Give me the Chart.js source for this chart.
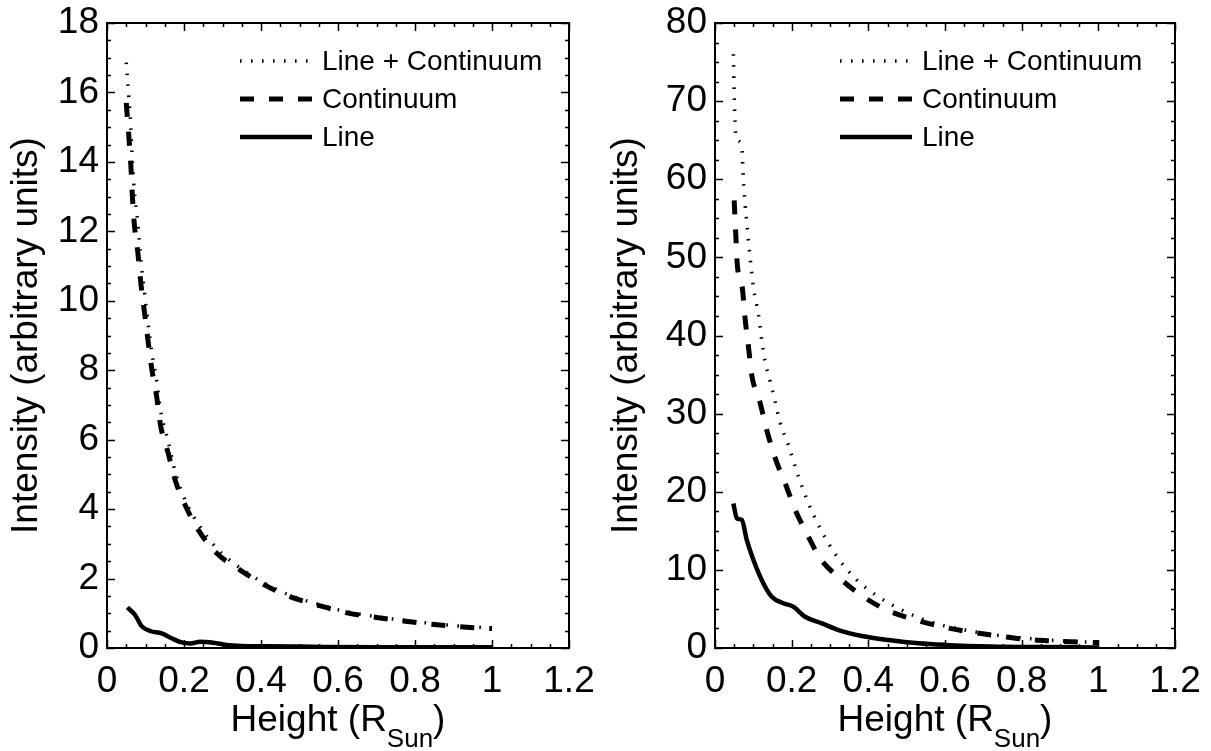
<!DOCTYPE html>
<html>
<head>
<meta charset="utf-8">
<script src="https://cdn.jsdelivr.net/npm/chart.js@4.4.1/dist/chart.umd.min.js"></script>
<style>
  html, body { margin: 0; padding: 0; background: #fff; }
  #wrap { position: relative; width: 1211px; height: 751px; }
  .panel { position: absolute; top: 0; height: 751px; }
  #left { left: 0; width: 605px; }
  #right { left: 605px; width: 606px; }
</style>
</head>
<body>
<div id="wrap">
  <div class="panel" id="left"><canvas id="leftChart"></canvas></div>
  <div class="panel" id="right"><canvas id="rightChart"></canvas></div>
</div>
<script>
// ---- Left panel data (height in R_Sun, intensity in arbitrary units) ----
const leftContX = [0.05, 0.057, 0.062, 0.066, 0.071, 0.08, 0.088, 0.097, 0.106, 0.116, 0.129, 0.139, 0.159, 0.177, 0.205, 0.237, 0.285, 0.345, 0.41, 0.475, 0.545, 0.62, 0.70, 0.77, 0.84, 0.917, 1.0];
const leftTotal = [16.86, 15.8, 14.95, 14.0, 13.16, 12.25, 11.16, 10.28, 9.42, 8.54, 7.69, 6.85, 5.95, 5.08, 4.21, 3.57, 2.87, 2.31, 1.86, 1.52, 1.27, 1.05, 0.9, 0.8, 0.71, 0.63, 0.58];
const leftCont = [15.7, 14.7, 13.9, 13.0, 12.2, 11.4, 10.5, 9.7, 8.9, 8.06, 7.24, 6.42, 5.61, 4.84, 4.07, 3.40, 2.73, 2.25, 1.81, 1.48, 1.24, 1.02, 0.88, 0.78, 0.69, 0.61, 0.56];
const leftLineX = [0.053, 0.073, 0.09, 0.112, 0.142, 0.168, 0.194, 0.216, 0.242, 0.276, 0.31, 0.35, 0.41, 0.5, 0.7, 1.0];
const leftLine = [1.17, 0.95, 0.63, 0.49, 0.42, 0.28, 0.16, 0.13, 0.18, 0.15, 0.09, 0.06, 0.05, 0.04, 0.02, 0.02];

// ---- Right panel data ----
const rightTotalX = [0.048, 0.05, 0.053, 0.058, 0.07, 0.074, 0.078, 0.083, 0.091, 0.1, 0.113, 0.122, 0.131, 0.144, 0.157, 0.17, 0.191, 0.218, 0.244, 0.279, 0.318, 0.37, 0.426, 0.496, 0.574, 0.653, 0.731, 0.81, 0.89, 0.98, 1.0];
const rightTotal = [76.0, 71.0, 66.5, 65.0, 64.2, 59.9, 57.1, 54.4, 50.3, 46.2, 42.8, 39.4, 36.6, 34.1, 31.5, 28.8, 26.0, 21.9, 18.5, 14.9, 11.7, 8.7, 6.57, 4.65, 3.16, 2.3, 1.66, 1.24, 0.95, 0.75, 0.72];
const rightContX = [0.05, 0.054, 0.058, 0.072, 0.078, 0.087, 0.096, 0.117, 0.135, 0.157, 0.183, 0.209, 0.239, 0.274, 0.326, 0.387, 0.448, 0.518, 0.592, 0.661, 0.74, 0.81, 0.88, 0.966, 1.0];
const rightCont = [57.3, 53.1, 49.2, 45.8, 42.4, 38.7, 34.9, 31.5, 27.9, 24.3, 21.1, 17.7, 14.7, 11.5, 8.9, 6.57, 4.86, 3.67, 2.73, 2.09, 1.54, 1.11, 0.9, 0.73, 0.7];
const rightLineX = [0.048, 0.057, 0.07, 0.083, 0.1, 0.126, 0.148, 0.178, 0.204, 0.235, 0.279, 0.322, 0.383, 0.453, 0.531, 0.6, 0.72, 0.85, 1.0];
const rightLine = [18.5, 16.6, 16.4, 13.8, 11.3, 8.3, 6.57, 5.72, 5.29, 4.0, 3.16, 2.3, 1.54, 1.02, 0.6, 0.4, 0.2, 0.12, 0.08];

// ---- Axis ticks ----
const xTicks = [0, 0.2, 0.4, 0.6, 0.8, 1, 1.2];
const leftYTicks = [0, 2, 4, 6, 8, 10, 12, 14, 16, 18];
const rightYTicks = [0, 10, 20, 30, 40, 50, 60, 70, 80];
const seriesLabels = ['Line + Continuum', 'Continuum', 'Line'];

const FONT = '"Liberation Sans", Arial, Helvetica, sans-serif';

function toPoints(xs, ys) {
    return xs.map((x, i) => ({ x: x, y: ys[i] }));
}

// frame, inward ticks on all four sides, x title with subscript, legend
const framePlugin = {
    id: 'frame',
    afterDatasetsDraw(chart, args, opts) {
        const { ctx, chartArea: a } = chart;
        const x = chart.scales.x;
        const y = chart.scales.y;
        ctx.save();
        ctx.strokeStyle = '#000';
        ctx.lineWidth = 1.5;
        ctx.beginPath();
        const nx = Math.round((x.max - x.min) / opts.xMinor);
        for (let i = 0; i <= nx; i++) {
            const v = x.min + i * opts.xMinor;
            const px = Math.round(x.getPixelForValue(v)) + 0.5;
            const len = (i % opts.xEvery === 0) ? 8 : 4;
            ctx.moveTo(px, a.bottom); ctx.lineTo(px, a.bottom - len);
            ctx.moveTo(px, a.top); ctx.lineTo(px, a.top + len);
        }
        const ny = Math.round((y.max - y.min) / opts.yMinor);
        for (let i = 0; i <= ny; i++) {
            const v = y.min + i * opts.yMinor;
            const py = Math.round(y.getPixelForValue(v)) + 0.5;
            const len = (i % opts.yEvery === 0) ? 8 : 4;
            ctx.moveTo(a.left, py); ctx.lineTo(a.left + len, py);
            ctx.moveTo(a.right, py); ctx.lineTo(a.right - len, py);
        }
        ctx.stroke();
        ctx.lineWidth = 2;
        ctx.strokeRect(a.left, a.top, a.width, a.height);

        // x axis title: Height (R_Sun)
        ctx.fillStyle = '#000';
        ctx.textBaseline = 'alphabetic';
        ctx.textAlign = 'left';
        const big = '37px ' + FONT, small = '26px ' + FONT;
        ctx.font = big;
        const w1 = ctx.measureText('Height (R').width;
        const w3 = ctx.measureText(')').width;
        ctx.font = small;
        const w2 = ctx.measureText('Sun').width;
        const tx = (a.left + a.right) / 2 - (w1 + w2 + w3) / 2;
        const base = a.bottom + 83;
        ctx.font = big; ctx.fillText('Height (R', tx, base);
        ctx.font = small; ctx.fillText('Sun', tx + w1, base + 16);
        ctx.font = big; ctx.fillText(')', tx + w1 + w2, base);

        // legend
        ctx.font = '28px ' + FONT;
        ctx.textBaseline = 'middle';
        chart.data.datasets.forEach((ds, i) => {
            const ly = a.top + 38 + i * 38;
            const lx = a.left + opts.legendX;
            ctx.save();
            ctx.lineWidth = ds.borderWidth;
            ctx.setLineDash(ds.borderDash || []);
            ctx.beginPath();
            ctx.moveTo(lx, ly); ctx.lineTo(lx + 72, ly);
            ctx.stroke();
            ctx.restore();
            ctx.fillText(ds.label, lx + 82, ly + 1);
        });
        ctx.restore();
    }
};

function makeChart(canvasId, sets, yMax, yTicks, yMinor, yEvery, pad, legendX) {
    const datasets = [
        {
            label: seriesLabels[0], data: toPoints(sets[0][0], sets[0][1]),
            borderColor: '#000', borderWidth: 3.5, borderDash: [1.6, 9.4]
        },
        {
            label: seriesLabels[1], data: toPoints(sets[1][0], sets[1][1]),
            borderColor: '#000', borderWidth: 5, borderDash: [14, 15]
        },
        {
            label: seriesLabels[2], data: toPoints(sets[2][0], sets[2][1]),
            borderColor: '#000', borderWidth: 4.5, borderDash: []
        }
    ];
    datasets.forEach(d => {
        d.pointRadius = 0;
        d.fill = false;
        d.cubicInterpolationMode = 'monotone';
        d.borderCapStyle = 'butt';
    });

    return new Chart(document.getElementById(canvasId).getContext('2d'), {
        type: 'line',
        data: { datasets: datasets },
        options: {
            responsive: true,
            maintainAspectRatio: false,
            animation: false,
            layout: { padding: { left: 0, right: 36, top: 23, bottom: 0 } },
            plugins: {
                legend: { display: false },
                tooltip: { enabled: false },
                frame: { xMinor: 0.05, xEvery: 4, yMinor: yMinor, yEvery: yEvery, legendX: legendX }
            },
            scales: {
                x: {
                    type: 'linear', min: 0, max: 1.2,
                    grid: { display: false, drawTicks: false },
                    border: { display: false },
                    afterBuildTicks: (s) => { s.ticks = xTicks.map(v => ({ value: v })); },
                    afterFit: (s) => {
                        s.height = 103;
                        s.paddingLeft = 0; s.paddingRight = 0;
                    },
                    ticks: {
                        color: '#000', padding: 12, maxRotation: 0, autoSkip: false,
                        font: { family: FONT, size: 37 },
                        callback: (v) => String(+v.toFixed(1))
                    }
                },
                y: {
                    type: 'linear', min: 0, max: yMax,
                    grid: { display: false, drawTicks: false },
                    border: { display: false },
                    afterBuildTicks: (s) => { s.ticks = yTicks.map(v => ({ value: v })); },
                    afterFit: (s) => {
                        s.width = pad.axisW;
                        s.paddingTop = 0; s.paddingBottom = 0;
                    },
                    ticks: {
                        color: '#000', padding: 8, autoSkip: false,
                        font: { family: FONT, size: 37 },
                        callback: (v) => String(v)
                    },
                    title: {
                        display: true, text: 'Intensity (arbitrary units)', color: '#000',
                        font: { family: FONT, size: 37 },
                        padding: { top: pad.titleTop, bottom: 0 }
                    }
                }
            }
        },
        plugins: [framePlugin]
    });
}

makeChart('leftChart',
    [[leftContX, leftTotal], [leftContX, leftCont], [leftLineX, leftLine]],
    18, leftYTicks, 0.5, 4, { axisW: 107, titleTop: 5 }, 133);

makeChart('rightChart',
    [[rightTotalX, rightTotal], [rightContX, rightCont], [rightLineX, rightLine]],
    80, rightYTicks, 2.5, 4, { axisW: 110, titleTop: 0 }, 125);
</script>
</body>
</html>
